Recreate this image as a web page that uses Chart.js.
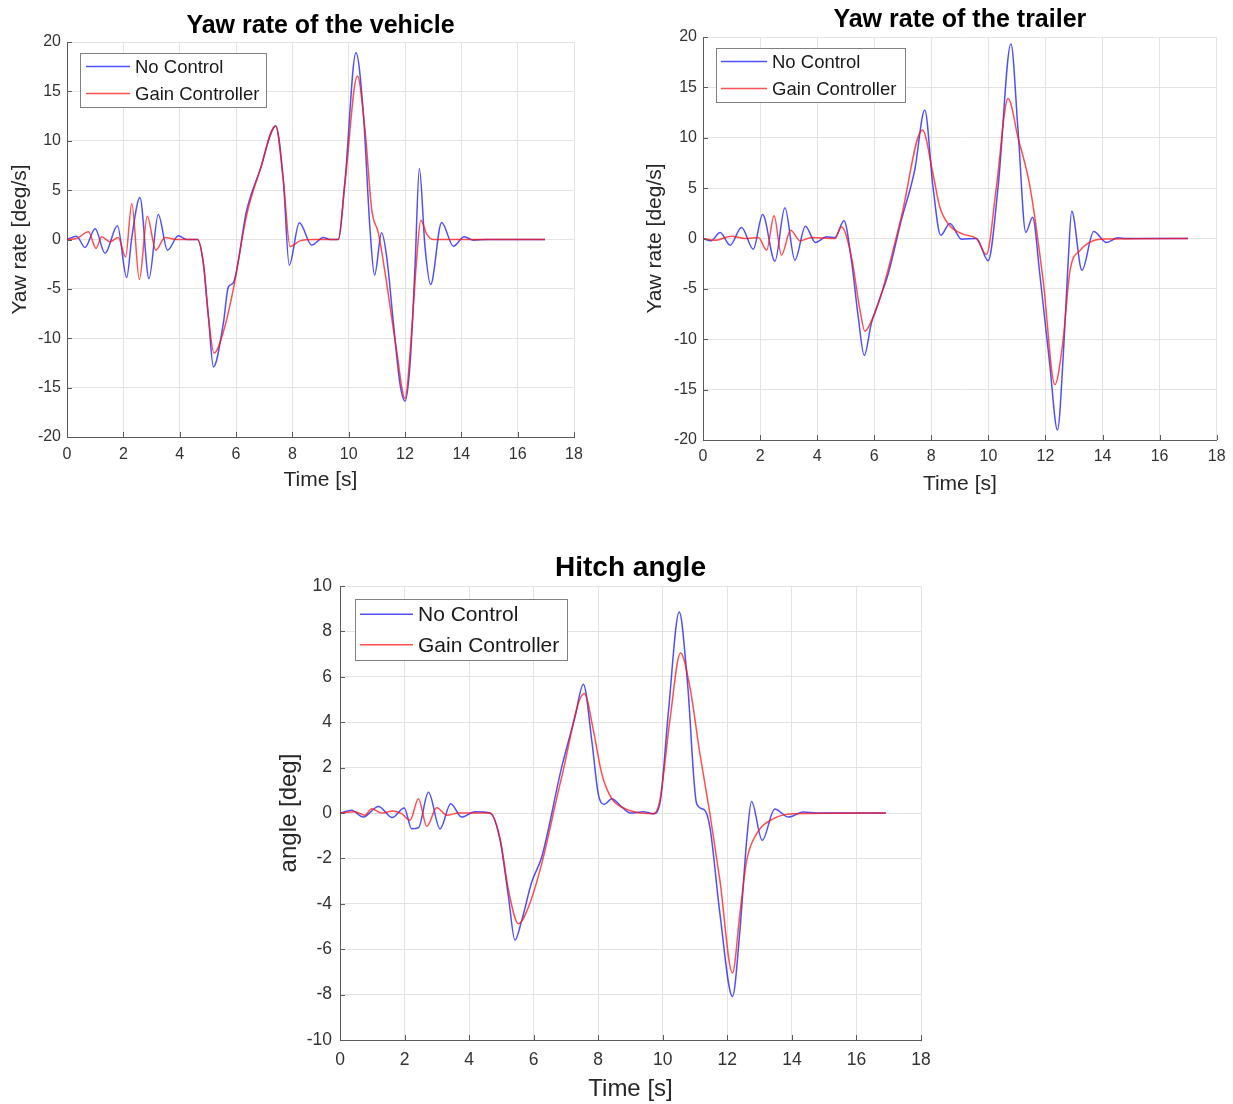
<!DOCTYPE html>
<html>
<head>
<meta charset="utf-8">
<script src="https://cdn.jsdelivr.net/npm/chart.js@4.4.1/dist/chart.umd.min.js"></script>
<style>
  body { margin: 0; background: #fff; width: 1233px; height: 1104px; overflow: hidden; position: relative; }
  canvas { position: absolute; }
  #vehicleChart { left: 0; top: 0; }
  #trailerChart { left: 640px; top: 0; }
  #hitchChart { left: 250px; top: 530px; }
</style>
</head>
<body>
<canvas id="vehicleChart" width="640" height="497"></canvas>
<canvas id="trailerChart" width="593" height="500"></canvas>
<canvas id="hitchChart" width="760" height="574"></canvas>
<script>
const seriesLabels = ['No Control', 'Gain Controller'];

// yaw rate of the vehicle [deg/s]
const vehicleTimeNoControl = [0, 0.34, 0.64, 1.0, 1.35, 1.79, 2.12, 2.3, 2.59, 2.91, 3.24, 3.57, 3.95, 4.25, 4.63, 4.84, 5.02, 5.2, 5.55, 5.73, 5.9, 6.38, 6.85, 7.41, 7.68, 7.89, 8.25, 8.69, 9.1, 9.34, 9.63, 9.87, 10.26, 10.52, 10.76, 10.92, 11.17, 11.35, 11.59, 11.82, 12.0, 12.18, 12.36, 12.51, 12.71, 12.91, 13.3, 13.72, 14.1, 14.43, 14.9, 16.97];
const vehicleNoControl = [0, 0.34, -0.8, 1.08, -1.4, 1.4, -3.85, 0.2, 4.26, -3.95, 2.53, -1.08, 0.37, 0, 0, -2.4, -7.8, -12.9, -8.5, -4.8, -4.4, 2.97, 7.0, 11.5, 6.0, -2.6, 1.7, -0.57, 0.2, 0, 0, 6.0, 18.9, 12.8, 0.95, -3.6, 0.68, -1.76, -8.5, -14.6, -16.35, -12.6, -2.4, 7.2, -0.74, -4.56, 1.72, -0.68, 0.27, -0.07, 0, 0];
const vehicleTimeGain = [0, 0.34, 0.76, 1.03, 1.23, 1.53, 1.82, 2.08, 2.3, 2.57, 2.85, 3.15, 3.48, 3.89, 4.63, 4.84, 5.02, 5.22, 5.55, 5.9, 6.38, 6.85, 7.41, 7.68, 7.92, 8.27, 8.75, 9.63, 9.87, 10.31, 10.58, 10.82, 11.06, 11.35, 11.7, 12.0, 12.24, 12.42, 12.56, 12.77, 13.0, 16.97];
const vehicleGain = [0, 0.1, 0.78, -0.9, 0.27, -0.24, 0.2, -1.76, 3.65, -4.05, 2.36, -1.08, 0.2, 0, 0, -2.4, -7.8, -11.5, -9.36, -5.1, 2.5, 7.0, 11.5, 6.0, -0.7, -0.14, 0, 0, 5.7, 16.55, 11.1, 3.0, 0.6, -4.46, -11.2, -16.1, -9.2, -1.76, 1.96, 0.54, 0, 0];

// yaw rate of the trailer [deg/s]
const trailerTimeNoControl = [0, 0.28, 0.6, 0.95, 1.35, 1.76, 2.09, 2.52, 2.87, 3.22, 3.59, 3.94, 4.33, 4.62, 4.94, 5.2, 5.44, 5.65, 5.9, 6.14, 6.49, 6.95, 7.42, 7.77, 8.06, 8.33, 8.65, 9.06, 9.58, 9.99, 10.34, 10.79, 11.04, 11.31, 11.55, 11.8, 12.15, 12.42, 12.64, 12.79, 12.92, 13.28, 13.69, 14.14, 14.54, 14.83, 16.99];
const trailerNoControl = [0, -0.23, 0.6, -0.66, 1.1, -1.06, 2.38, -2.25, 3.05, -2.15, 1.22, -0.4, 0.17, 0.1, 1.75, -2.15, -7.8, -11.6, -8.4, -6.4, -3.5, 1.82, 6.8, 12.75, 5.1, 0.33, 1.5, -0.07, 0, -2.2, 5.1, 19.3, 10.7, 0.6, 2.1, -3.5, -12.5, -19.0, -10.8, -2.55, 2.7, -3.15, 0.7, -0.4, 0.07, 0, 0];
const trailerTimeGain = [0, 0.42, 1.0, 1.47, 1.94, 2.23, 2.49, 2.75, 3.07, 3.4, 3.8, 4.62, 4.85, 5.2, 5.5, 5.67, 5.9, 6.25, 6.95, 7.69, 8.06, 8.3, 8.65, 9.11, 9.58, 9.93, 10.28, 10.69, 11.04, 11.46, 11.92, 12.33, 12.6, 12.86, 13.21, 13.67, 14.14, 16.99];
const trailerGain = [0, -0.17, 0.23, 0, 0.1, -1.16, 2.25, -1.66, 0.83, -0.23, 0.1, 0, 1.16, -1.8, -7.1, -9.2, -8.2, -5.5, 2.15, 10.76, 6.4, 3.1, 1.26, 0.43, 0, -1.6, 5.1, 13.9, 10.0, 5.1, -4.2, -14.5, -10.5, -3.2, -1.2, -0.23, -0.05, 0];

// hitch angle [deg]
const hitchTimeNoControl = [0, 0.36, 0.72, 1.19, 1.62, 1.99, 2.22, 2.43, 2.74, 3.1, 3.43, 3.77, 4.18, 4.65, 4.96, 5.22, 5.42, 5.63, 5.94, 6.25, 6.87, 7.28, 7.54, 7.8, 8.0, 8.19, 8.42, 8.73, 8.99, 9.4, 9.71, 9.91, 10.17, 10.51, 10.76, 11.05, 11.28, 11.46, 11.77, 12.16, 12.39, 12.6, 12.75, 13.08, 13.47, 13.89, 14.35, 14.77, 16.91];
const hitchNoControl = [0, 0.12, -0.18, 0.29, -0.2, 0.22, -0.69, -0.65, 0.91, -0.7, 0.41, -0.18, 0.06, 0, -1.2, -3.7, -5.6, -4.73, -3.04, -1.94, 2.03, 4.23, 5.67, 3.2, 0.85, 0.38, 0.63, 0.26, 0, 0.05, -0.03, 0.41, 4.38, 8.85, 5.84, 0.41, 0.15, -0.62, -4.43, -8.08, -5.17, -1.2, 0.51, -1.2, 0.18, -0.18, 0.04, 0, 0];
const hitchTimeGain = [0, 0.46, 0.77, 0.98, 1.29, 1.65, 1.91, 2.17, 2.43, 2.69, 3.0, 3.31, 3.67, 4.65, 4.96, 5.22, 5.53, 5.84, 6.25, 6.87, 7.57, 7.85, 8.11, 8.42, 8.83, 9.14, 9.71, 9.91, 10.22, 10.55, 10.84, 11.15, 11.46, 11.77, 12.16, 12.39, 12.6, 12.91, 13.43, 14.05, 16.91];
const hitchGain = [0, 0.06, -0.1, 0.19, 0, 0.09, -0.03, -0.32, 0.63, -0.59, 0.23, -0.1, 0, 0, -1.13, -3.4, -4.88, -4.14, -2.23, 1.59, 5.26, 3.64, 1.73, 0.63, 0.19, 0.04, -0.03, 0.56, 4.08, 7.05, 5.55, 2.61, -0.03, -2.97, -7.05, -4.43, -2.09, -0.91, -0.25, -0.03, 0];

const FONT = "'Liberation Sans', Arial, Helvetica, sans-serif";
Chart.defaults.font.family = FONT;

// inward tick marks + matlab style legend box
const matlabAxes = {
  id: 'matlabAxes',
  afterDraw(chart, args, opts) {
    const ctx = chart.ctx;
    const {left, top, bottom} = chart.chartArea;
    const xs = chart.scales.x;
    const ys = chart.scales.y;
    ctx.save();
    ctx.strokeStyle = '#5a5a5a';
    ctx.lineWidth = 1;
    ctx.beginPath();
    xs.ticks.forEach(tk => {
      const px = Math.round(xs.getPixelForValue(tk.value)) + 0.5;
      ctx.moveTo(px, bottom);
      ctx.lineTo(px, bottom - 5);
    });
    ys.ticks.forEach(tk => {
      const py = Math.round(ys.getPixelForValue(tk.value)) + 0.5;
      ctx.moveTo(left, py);
      ctx.lineTo(left + 5, py);
    });
    ctx.stroke();

    const lg = opts.legend;
    const bx = Math.round(left + lg.dx);
    const by = Math.round(top + lg.dy);
    ctx.fillStyle = '#fff';
    ctx.fillRect(bx, by, lg.w, lg.h);
    ctx.strokeStyle = '#808080';
    ctx.strokeRect(bx + 0.5, by + 0.5, lg.w, lg.h);
    ctx.font = lg.size + 'px ' + FONT;
    ctx.textBaseline = 'middle';
    const n = chart.data.datasets.length;
    chart.data.datasets.forEach((ds, i) => {
      const cy = by + lg.h * (i + 0.5) / n;
      ctx.strokeStyle = ds.borderColor;
      ctx.lineWidth = 1.3;
      ctx.beginPath();
      ctx.moveTo(bx + lg.lineFrom, cy);
      ctx.lineTo(bx + lg.lineTo, cy);
      ctx.stroke();
      ctx.fillStyle = '#1a1a1a';
      ctx.fillText(ds.label, bx + lg.textX, cy + 1);
    });
    ctx.restore();
  }
};

function toPoints(times, values) {
  return times.map((t, i) => ({x: t, y: values[i]}));
}

function buildChart(canvasId, s) {
  new Chart(document.getElementById(canvasId), {
    type: 'line',
    data: {
      datasets: [{
        label: seriesLabels[0],
        data: toPoints(s.tNo, s.vNo),
        borderColor: 'rgba(20, 20, 255, 0.75)',
        borderWidth: 1.5,
        pointRadius: 0,
        cubicInterpolationMode: 'monotone',
        order: 1
      }, {
        label: seriesLabels[1],
        data: toPoints(s.tGain, s.vGain),
        borderColor: 'rgba(255, 20, 20, 0.75)',
        borderWidth: 1.5,
        pointRadius: 0,
        cubicInterpolationMode: 'monotone',
        order: 0
      }]
    },
    options: {
      responsive: false,
      animation: false,
      devicePixelRatio: 1,
      layout: { padding: { left: 0, top: 0, right: s.padRight, bottom: 0 } },
      plugins: {
        legend: { display: false },
        tooltip: { enabled: false },
        title: {
          display: true,
          text: s.title,
          fullSize: false,
          color: '#000',
          font: { size: s.titleSize, weight: 'bold' },
          padding: { top: s.titlePadTop, bottom: s.titlePadBottom }
        },
        matlabAxes: { legend: s.legend }
      },
      scales: {
        x: {
          type: 'linear',
          min: 0,
          max: 18,
          ticks: { stepSize: 2, color: '#333', font: { size: s.tickSize }, padding: s.xTickPad, maxRotation: 0 },
          grid: { color: '#e3e3e3', drawTicks: false },
          border: { color: '#5a5a5a', width: 1 },
          title: { display: true, text: 'Time [s]', color: '#262626', font: { size: s.axisSize }, padding: { top: 0, bottom: s.xTitlePad } },
          afterFit: scale => { scale.height = s.xHeight; }
        },
        y: {
          type: 'linear',
          min: s.yMin,
          max: s.yMax,
          ticks: { stepSize: s.yStep, color: '#333', font: { size: s.tickSize }, padding: s.yTickPad },
          grid: { color: '#e3e3e3', drawTicks: false },
          border: { color: '#5a5a5a', width: 1 },
          title: { display: true, text: s.yTitle, color: '#262626', font: { size: s.axisSize }, padding: { top: s.yTitlePad, bottom: 0 } },
          afterFit: scale => { scale.width = s.yWidth; }
        }
      }
    },
    plugins: [matlabAxes]
  });
}

buildChart('vehicleChart', {
  title: 'Yaw rate of the vehicle', yTitle: 'Yaw rate [deg/s]',
  tNo: vehicleTimeNoControl, vNo: vehicleNoControl, tGain: vehicleTimeGain, vGain: vehicleGain,
  yMin: -20, yMax: 20, yStep: 5,
  padRight: 66, yWidth: 67, xHeight: 60,
  titleSize: 25, titlePadTop: 11, titlePadBottom: 1,
  axisSize: 21, tickSize: 16, xTickPad: 8, yTickPad: 6, xTitlePad: 4.4, yTitlePad: 7.4,
  legend: { dx: 13, dy: 11, w: 186, h: 54, size: 18.5, lineFrom: 6, lineTo: 50, textX: 55 }
});

buildChart('trailerChart', {
  title: 'Yaw rate of the trailer', yTitle: 'Yaw rate [deg/s]',
  tNo: trailerTimeNoControl, vNo: trailerNoControl, tGain: trailerTimeGain, vGain: trailerGain,
  yMin: -20, yMax: 20, yStep: 5,
  padRight: 16, yWidth: 63, xHeight: 60,
  titleSize: 25, titlePadTop: 5, titlePadBottom: 2,
  axisSize: 21, tickSize: 16, xTickPad: 7.4, yTickPad: 6, xTitlePad: 3.4, yTitlePad: 2.4,
  legend: { dx: 13, dy: 11, w: 189, h: 54, size: 18.5, lineFrom: 5, lineTo: 51, textX: 56 }
});

buildChart('hitchChart', {
  title: 'Hitch angle', yTitle: 'angle [deg]',
  tNo: hitchTimeNoControl, vNo: hitchNoControl, tGain: hitchTimeGain, vGain: hitchGain,
  yMin: -10, yMax: 10, yStep: 2,
  padRight: 89, yWidth: 90, xHeight: 64,
  titleSize: 28, titlePadTop: 21.2, titlePadBottom: 1.2,
  axisSize: 24, tickSize: 17.5, xTickPad: 9.5, yTickPad: 8, xTitlePad: 0.6, yTitlePad: 24.6,
  legend: { dx: 15, dy: 13, w: 212, h: 61, size: 21, lineFrom: 5, lineTo: 58, textX: 63 }
});
</script>
</body>
</html>
